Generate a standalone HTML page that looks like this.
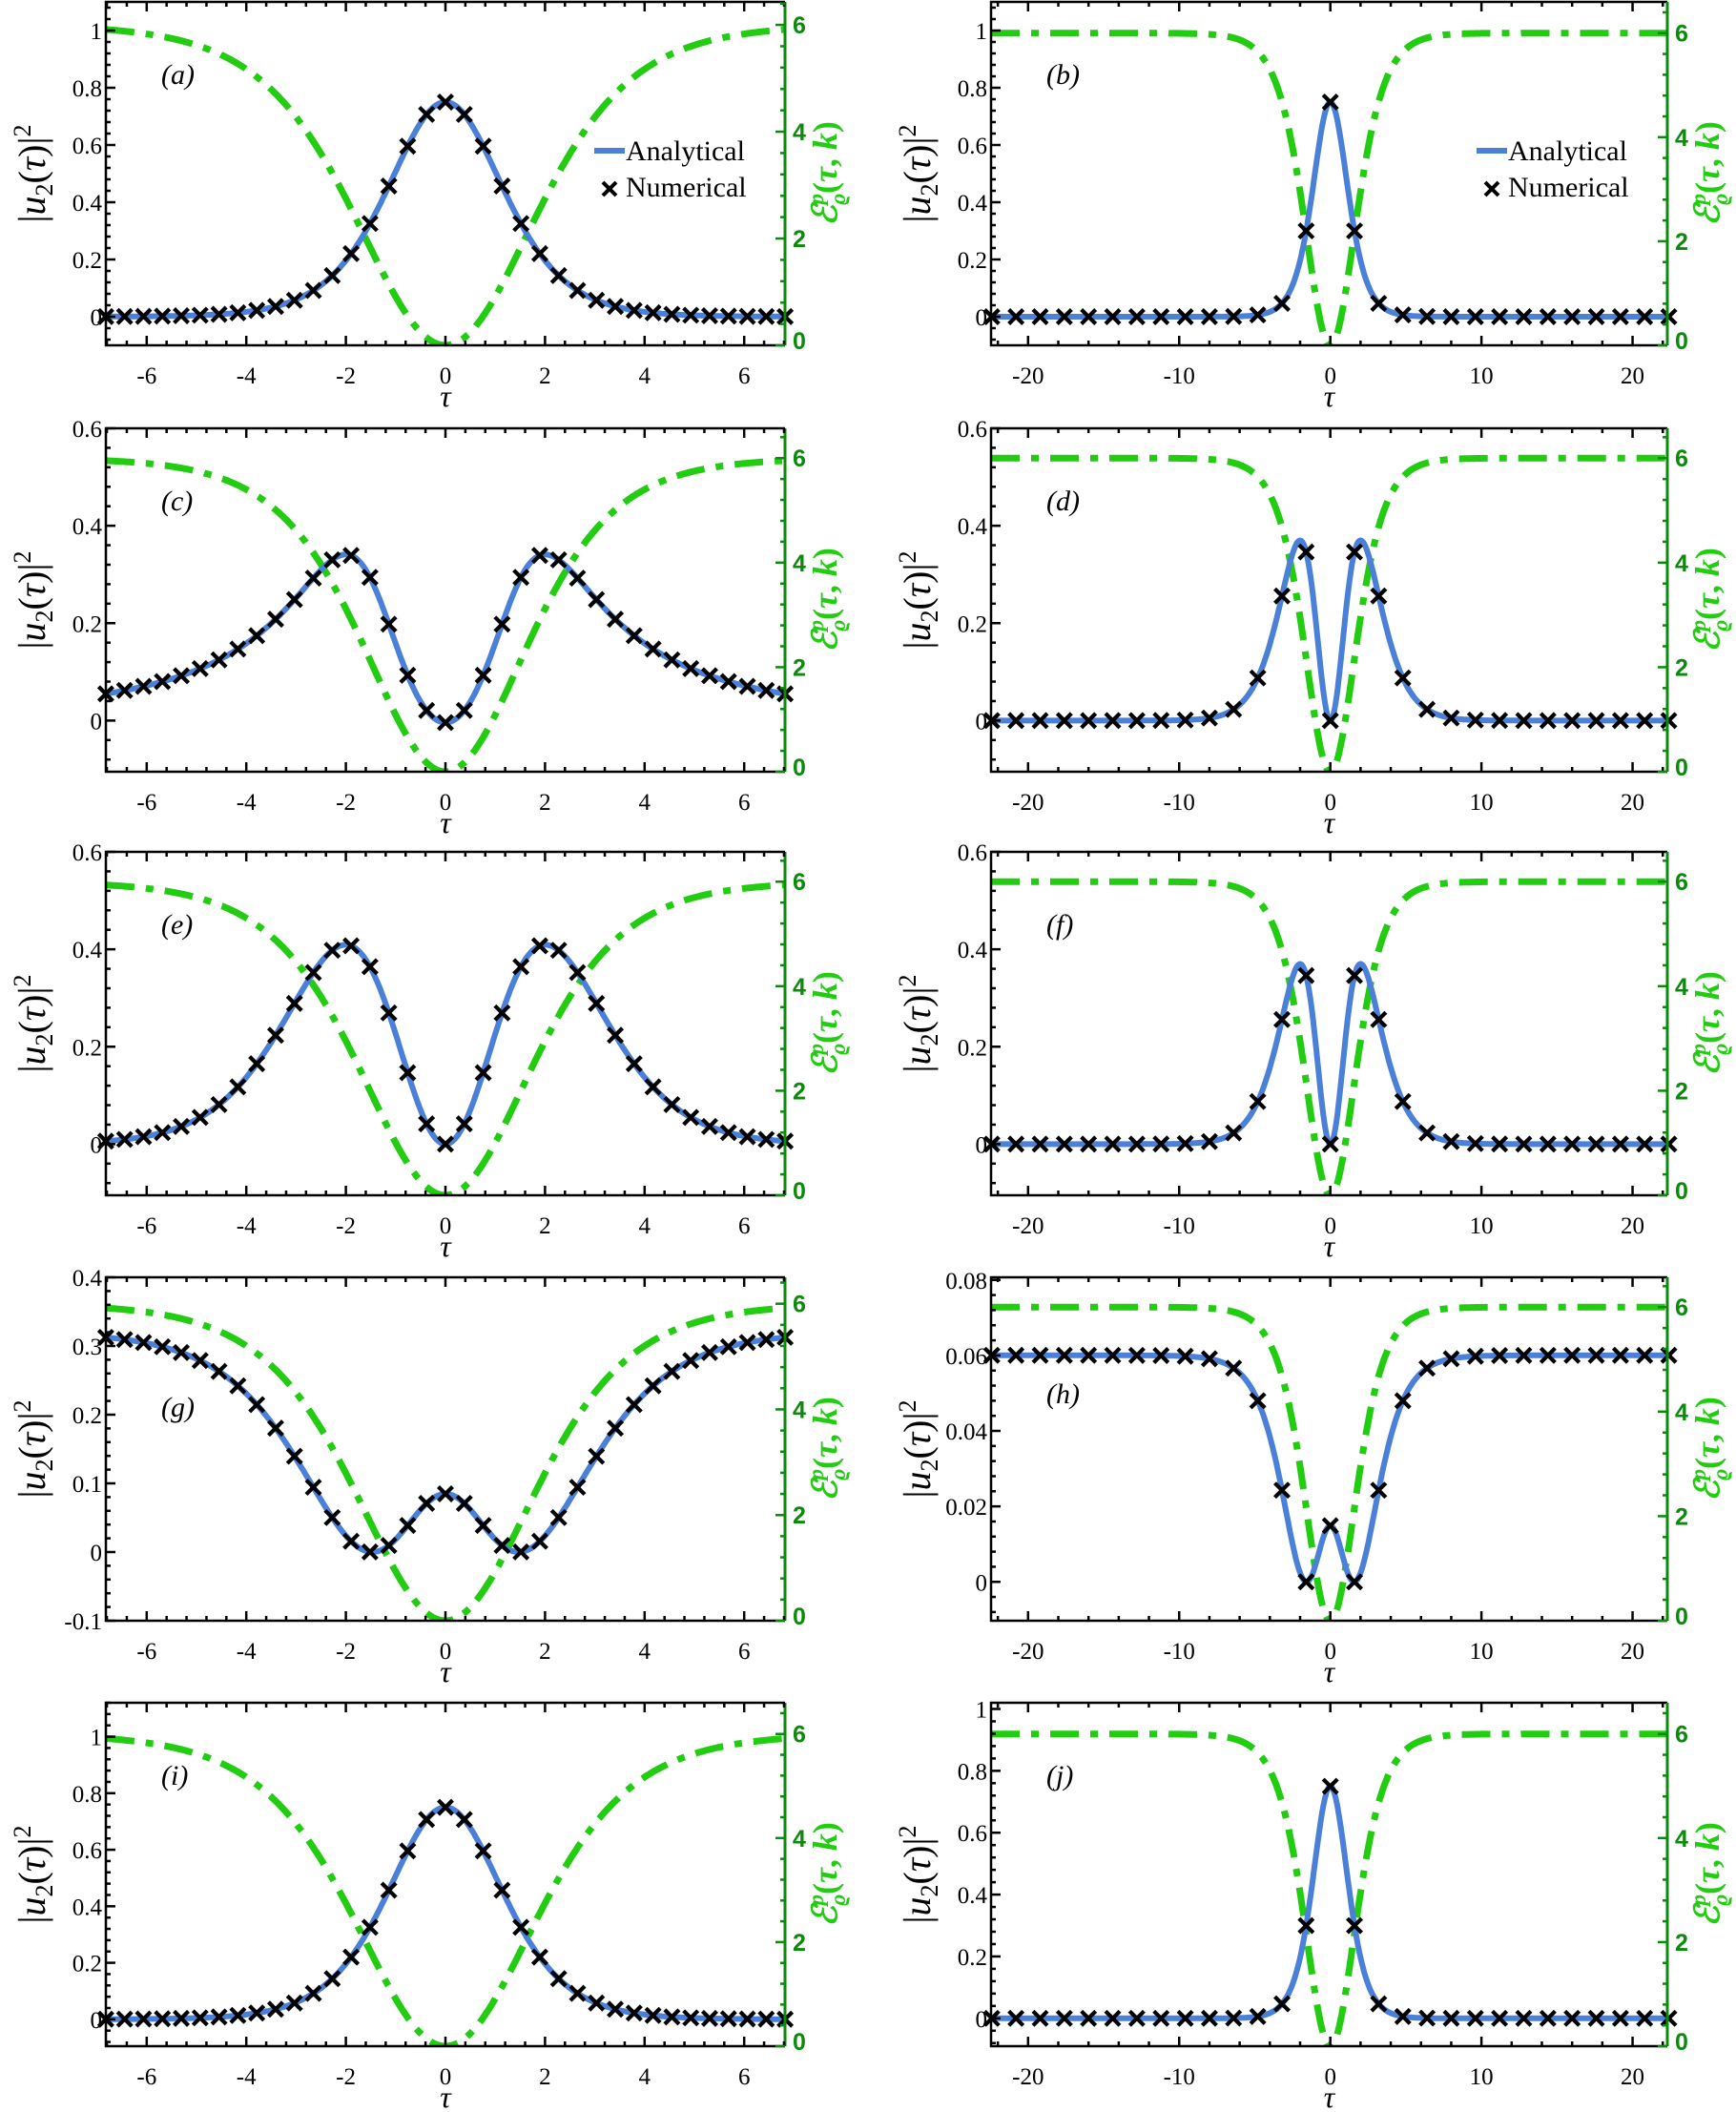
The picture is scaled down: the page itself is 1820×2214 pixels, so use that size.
<!DOCTYPE html>
<html><head><meta charset="utf-8"><style>
html,body{margin:0;padding:0;background:#fff;}
svg{display:block;}
</style></head><body>
<svg id="s" xmlns="http://www.w3.org/2000/svg" width="1820" height="2214" viewBox="0 0 1820 2214"></svg>
<script>
const S=document.getElementById('s');
let out='';
const sech=x=>1/Math.cosh(x), tanh=Math.tanh;
const BLUE='#4a80d8', GREEN='#22cc11', DG='#0b8a0b';
function panel(o){
 const {x0,x1,y0,y1,xr,yl,yr,xt,ylt,f,g,step,kmax,letter,legend,id}=o;
 const ly0=o.ly||86;
 const X=t=>x0+(t-xr[0])/(xr[1]-xr[0])*(x1-x0);
 const YL=v=>y1-(v-yl[0])/(yl[1]-yl[0])*(y1-y0);
 const YR=v=>y1-(v-yr[0])/(yr[1]-yr[0])*(y1-y0);
 out+=`<clipPath id="c${id}"><rect x="${x0}" y="${y0}" width="${x1-x0}" height="${y1-y0}"/></clipPath>`;
 let p='';for(let i=0;i<=600;i++){const t=xr[0]+(xr[1]-xr[0])*i/600;p+=(i?'L':'M')+X(t).toFixed(1)+','+YR(g(t)).toFixed(1);}
 out+=`<path d="${p}" fill="none" stroke="${GREEN}" stroke-width="7" stroke-dasharray="30 12 8 12" clip-path="url(#c${id})"/>`;
 p='';for(let i=0;i<=800;i++){const t=xr[0]+(xr[1]-xr[0])*i/800;p+=(i?'L':'M')+X(t).toFixed(1)+','+YL(f(t)).toFixed(1);}
 out+=`<path d="${p}" fill="none" stroke="${BLUE}" stroke-width="6" clip-path="url(#c${id})"/>`;
 for(let k=-kmax;k<=kmax;k++){const t=k*step,cx=X(t),cy=YL(f(t)),r=7.5;
  out+=`<path d="M${cx-r},${cy-r}L${cx+r},${cy+r}M${cx-r},${cy+r}L${cx+r},${cy-r}" stroke="#000" stroke-width="4.2"/>`;}
 out+=`<path d="M${x1},${y0}L${x0},${y0}L${x0},${y1}L${x1},${y1}" fill="none" stroke="#000" stroke-width="2.5"/>`;
 out+=`<line x1="${x1}" y1="${y0}" x2="${x1}" y2="${y1}" stroke="${DG}" stroke-width="3"/>`;
 const xs=xt[1]-xt[0], xm=xs/5;
 for(let t=Math.ceil(xr[0]/xm)*xm;t<=xr[1]+1e-9;t+=xm){const x=X(t);const maj=Math.abs(t/xs-Math.round(t/xs))<1e-6;const L=maj?10:5;
  out+=`<line x1="${x}" y1="${y1}" x2="${x}" y2="${y1-L}" stroke="#000" stroke-width="2.5"/><line x1="${x}" y1="${y0}" x2="${x}" y2="${y0+L}" stroke="#000" stroke-width="2.5"/>`;}
 for(const t of xt){out+=`<text x="${X(t)}" y="${y1+40}" font-size="25" text-anchor="middle" font-family="Liberation Serif,serif">${t}</text>`;}
 out+=`<text x="${(x0+x1)/2}" y="${y1+64}" font-size="32" font-style="italic" text-anchor="middle" font-family="Liberation Serif,serif">τ</text>`;
 const ys=ylt[1]-ylt[0], ym=ys/5;
 for(let v=Math.ceil(yl[0]/ym)*ym;v<=yl[1]+1e-9;v+=ym){const y=YL(v);const maj=Math.abs(v/ys-Math.round(v/ys))<1e-6;const L=maj?10:5;
  out+=`<line x1="${x0}" y1="${y}" x2="${x0+L}" y2="${y}" stroke="#000" stroke-width="2.5"/>`;}
 for(const v of ylt){out+=`<text x="${x0-4}" y="${YL(v)+9}" font-size="25" text-anchor="end" font-family="Liberation Serif,serif">${v}</text>`;}
 for(let v=0;v<=yr[1]+1e-9;v+=0.4){const y=YR(v);const maj=Math.abs(v/2-Math.round(v/2))<1e-6;const L=maj?10:5;
  out+=`<line x1="${x1}" y1="${y}" x2="${x1-L}" y2="${y}" stroke="${DG}" stroke-width="2.5"/>`;}
 for(const v of [0,2,4,6]){out+=`<text x="${x1+8}" y="${Math.min(YR(v)+9,y1+4)}" font-size="25" font-weight="bold" fill="${DG}" font-family="Liberation Sans,sans-serif">${v}</text>`;}
 const cy=(y0+y1)/2;
 out+=`<text transform="translate(${x0-64},${cy}) rotate(-90)" font-size="40" text-anchor="middle" font-family="Liberation Serif,serif">|<tspan font-style="italic">u</tspan><tspan font-size="26" dy="8">2</tspan><tspan dy="-8">(</tspan><tspan font-style="italic">τ</tspan>)|<tspan font-size="26" dy="-15">2</tspan></text>`;
 out+=`<text transform="translate(${x1+54},${cy}) rotate(-90)" font-size="36" fill="${GREEN}" font-weight="bold" text-anchor="middle" font-family="Liberation Serif,serif"><tspan font-style="italic">ℰ</tspan><tspan font-size="23" dy="9" font-style="italic">ϱ</tspan><tspan font-size="23" dy="-23" dx="-12" font-style="italic">p</tspan><tspan dy="14">(</tspan><tspan font-style="italic">τ</tspan>, <tspan font-style="italic">k</tspan>)</text>`;
 out+=`<text x="${x0+58}" y="${y0+ly0}" font-size="30" font-style="italic" font-family="Liberation Serif,serif">(${letter})</text>`;
 if(legend){const lx=x1-200,ly=y0+156;
  out+=`<line x1="${lx}" y1="${ly}" x2="${lx+32}" y2="${ly}" stroke="${BLUE}" stroke-width="6"/>`;
  out+=`<text x="${lx+33}" y="${ly+10}" font-size="30" font-family="Liberation Serif,serif">Analytical</text>`;
  const mx=lx+16,my=ly+40;out+=`<path d="M${mx-7},${my-7}L${mx+7},${my+7}M${mx-7},${my+7}L${mx+7},${my-7}" stroke="#000" stroke-width="4"/>`;
  out+=`<text x="${lx+33}" y="${ly+48}" font-size="30" font-family="Liberation Serif,serif">Numerical</text>`;}
}
const tops=[2,449,893,1339,1785],H=360;
const LX=[111,823],RX=[1039,1748];
const LXR=[-6.82,6.82],RXR=[-22.45,22.3];
const lxt=[-6,-4,-2,0,2,4,6],rxt=[-20,-10,0,10,20];
const fA=t=>0.75*sech(t/1.55)**2;
const fC=t=>0.1725*t*t/(1+t**4/16)-0.004;
const fD=t=>0.303*t*t*sech(t/1.667)**2;
const fE=t=>0.302*t*t*sech(t/2.6)**4;
const fG=t=>(0.566-0.857*sech(t/2.2)**2)**2;
const fH=t=>(0.245-0.367*sech(t/2.4)**2)**2;
const gq=b=>t=>6*tanh(t/b)**2;
const L=(row,o)=>Object.assign({x0:LX[0],x1:LX[1],y0:tops[row],y1:tops[row]+H,xr:LXR,xt:lxt,step:0.379,kmax:18},o);
const R=(row,o)=>Object.assign({x0:RX[0],x1:RX[1],y0:tops[row],y1:tops[row]+H,xr:RXR,xt:rxt,step:1.6,kmax:14},o);
const t1=[0,0.2,0.4,0.6,0.8,1],t2=[0,0.2,0.4,0.6];
panel(L(0,{id:'a',letter:'a',yl:[-0.1,1.1],yr:[0,6.43],ylt:t1,f:fA,g:gq(2.43),legend:1}));
panel(R(0,{id:'b',letter:'b',yl:[-0.1,1.1],yr:[0,6.6],ylt:t1,f:fA,g:gq(2.3),legend:1}));
panel(L(1,{id:'c',letter:'c',yl:[-0.105,0.6],yr:[0,6.57],ylt:t2,f:fC,g:gq(2.2)}));
panel(R(1,{id:'d',letter:'d',yl:[-0.105,0.6],yr:[0,6.57],ylt:t2,f:fD,g:gq(2.3)}));
panel(L(2,{id:'e',letter:'e',yl:[-0.105,0.6],yr:[0,6.57],ylt:t2,f:fE,g:gq(2.3)}));
panel(R(2,{id:'f',letter:'f',yl:[-0.105,0.6],yr:[0,6.57],ylt:t2,f:fD,g:gq(2.3)}));
panel(L(3,{id:'g',letter:'g',ly:146,yl:[-0.1,0.4],yr:[0,6.5],ylt:[-0.1,0,0.1,0.2,0.3,0.4],f:fG,g:gq(2.4)}));
panel(R(3,{id:'h',letter:'h',ly:132,yl:[-0.0103,0.0807],yr:[0,6.57],ylt:[0,0.02,0.04,0.06,0.08],f:fH,g:gq(2.3)}));
panel(L(4,{id:'i',letter:'i',yl:[-0.095,1.12],yr:[0,6.6],ylt:t1,f:fA,g:gq(2.43)}));
panel(R(4,{id:'j',letter:'j',yl:[-0.09,1.02],yr:[0,6.6],ylt:t1,f:fA,g:gq(2.3)}));
S.innerHTML=out;
</script>
</body></html>
